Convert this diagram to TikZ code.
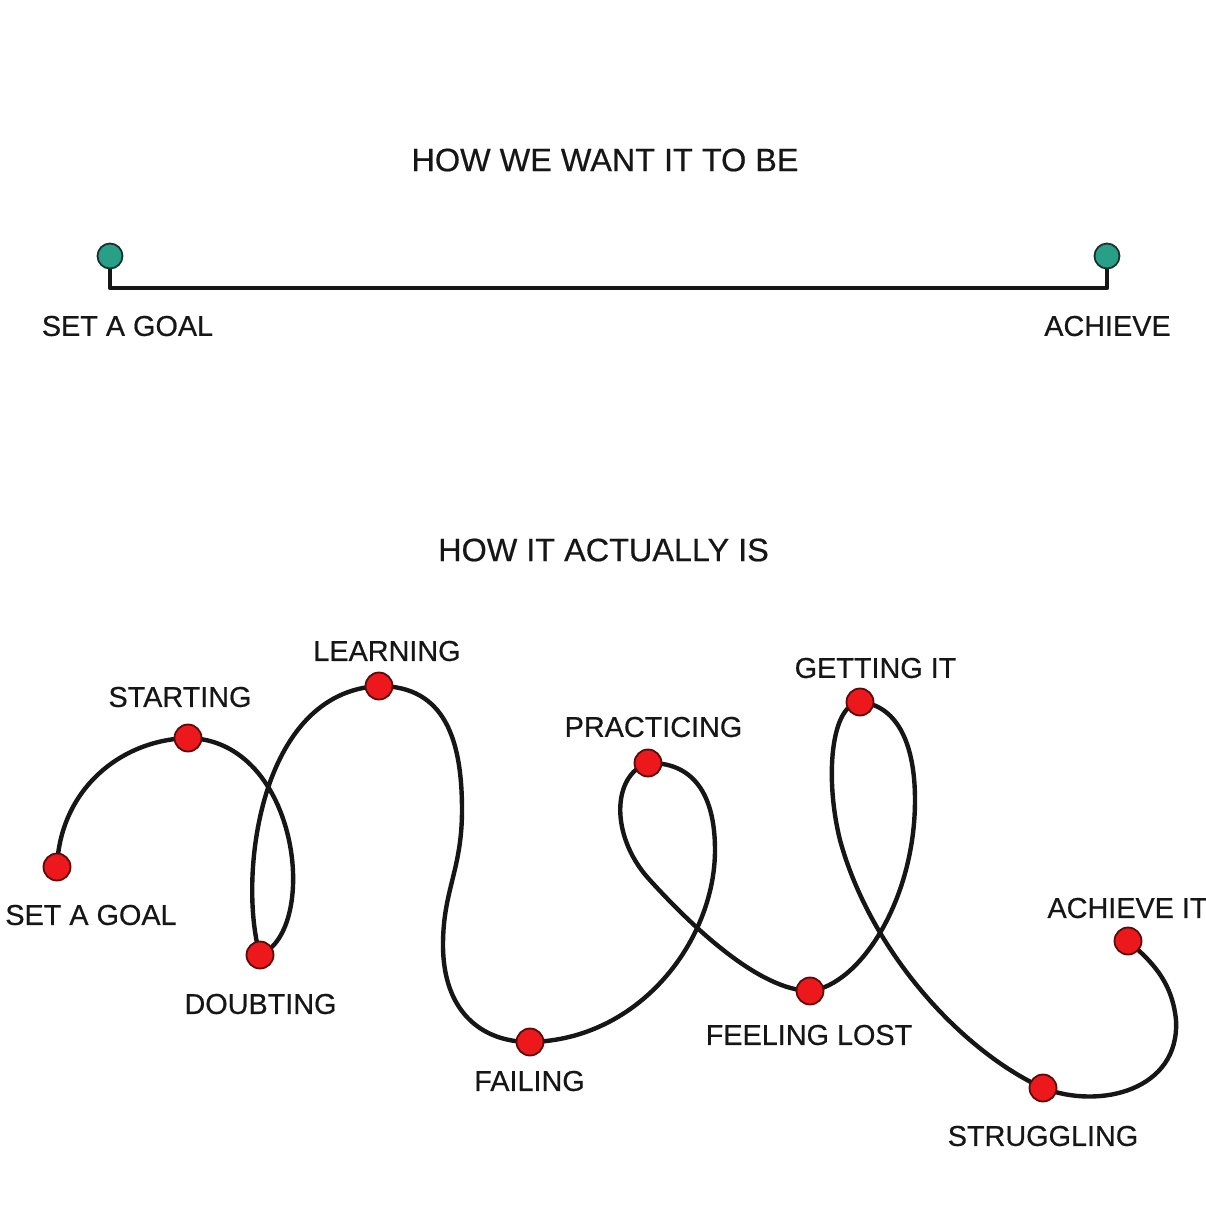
\documentclass[tikz,border=0pt]{standalone}
\usepackage{fontspec}
\setmainfont{Liberation Sans}[FakeBold=0.5]
\definecolor{ink}{RGB}{22,22,22}
\definecolor{dotred}{RGB}{236,24,28}
\definecolor{dotedge}{RGB}{90,12,12}
\definecolor{pinteal}{RGB}{40,160,136}
\definecolor{pinedge}{RGB}{25,50,45}
\pgfdeclarelayer{bg}
\pgfsetlayers{bg,main}
\tikzset{
  title/.style={inner sep=0pt, text=ink, font=\fontsize{16.2}{18}\selectfont},
  lbl/.style={inner sep=0pt, text=ink, font=\fontsize{14.4}{16}\selectfont},
  stop/.style={circle, draw=dotedge, line width=0.9pt, fill=dotred, minimum size=13.5pt, inner sep=0pt},
  pin/.style={circle, draw=pinedge, line width=0.9pt, fill=pinteal, minimum size=12.5pt, inner sep=0pt},
  road/.style={draw=ink, line width=2.2pt, line cap=round, line join=round}
}
\begin{document}
\begin{tikzpicture}[x=0.5pt, y=-0.5pt]
\useasboundingbox (0,0) rectangle (1206,1223);

% ---------- top: how we want it to be ----------
\node[title] (t1) at (605,160) {HOW WE WANT IT TO BE};
\node[pin] (pinL) at (110,256) {};
\node[pin] (pinR) at (1107,256) {};
\node[lbl] (lgoal) at (127.5,326) {SET A GOAL};
\node[lbl] (lach) at (1107.5,326) {ACHIEVE};
\begin{pgfonlayer}{bg}
\fill[white] (0,0) rectangle (1206,1223);
\draw[road, line cap=butt] (pinL.center) -- ++(0,32) -| (pinR.center);
\end{pgfonlayer}

% ---------- bottom: how it actually is ----------
\node[title] (t2) at (603.5,550) {HOW IT ACTUALLY IS};

\node[stop] (goal)  at (57,867) {};
\node[stop] (start) at (188,738) {};
\node[stop] (doubt) at (260,955) {};
\node[stop] (learn) at (379,686) {};
\node[stop] (fail)  at (530,1042) {};
\node[stop] (pract) at (648,763) {};
\node[stop] (lost)  at (810,991) {};
\node[stop] (get)   at (860,702) {};
\node[stop] (strug) at (1043,1088) {};
\node[stop] (ach)   at (1128,941) {};

\node[lbl] at (91,915) {SET A GOAL};
\node[lbl] at (180,697) {STARTING};
\node[lbl] at (260.5,1004) {DOUBTING};
\node[lbl] at (387,651) {LEARNING};
\node[lbl] at (529.5,1081) {FAILING};
\node[lbl] at (653.5,727) {PRACTICING};
\node[lbl] at (809,1035) {FEELING LOST};
\node[lbl] at (875.5,668) {GETTING IT};
\node[lbl] at (1043,1136) {STRUGGLING};
\node[lbl] at (1127.5,908) {ACHIEVE IT};

\begin{pgfonlayer}{bg}
\draw[road] (goal.center) .. controls (60,790) and (120,740) .. (start.center);
\draw[road] (start.center) .. controls (300,740) and (320,930) .. (doubt.center);
\draw[road] (doubt.center) .. controls (238,880) and (258,692) .. (learn.center);
\draw[road] (learn.center) .. controls (445,686) and (462,740) .. (462,810)
  .. controls (462,870) and (443,890) .. (443,945)
  .. controls (443,1010) and (480,1042) .. (fail.center);
\draw[road] (fail.center) .. controls (640,1040) and (715,940) .. (715,850)
  .. controls (715,790) and (690,762) .. (pract.center);
\draw[road] (pract.center) .. controls (612,775) and (610,835) .. (648,878)
  .. controls (695,930) and (760,990) .. (lost.center);
\draw[road] (lost.center) .. controls (860,985) and (915,900) .. (915,800)
  .. controls (915,740) and (895,705) .. (get.center);
\draw[road] (get.center) .. controls (830,705) and (825,780) .. (840,840)
  .. controls (870,950) and (960,1050) .. (strug.center);
\draw[road] (strug.center) .. controls (1100,1110) and (1180,1090) .. (1176,1020)
  .. controls (1172,980) and (1150,960) .. (ach.center);
\end{pgfonlayer}
\end{tikzpicture}
\end{document}
